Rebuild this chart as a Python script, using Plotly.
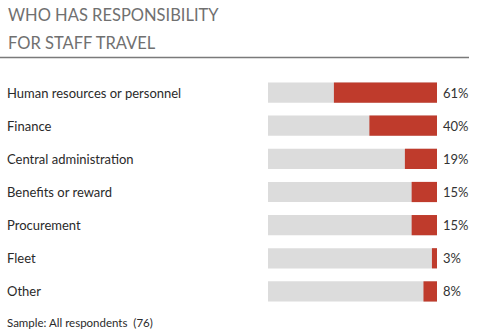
import plotly.graph_objects as go

categories = ["Human resources or personnel", "Finance", "Central administration",
              "Benefits or reward", "Procurement", "Fleet", "Other"]
values = [61, 40, 19, 15, 15, 3, 8]
labels = ["61%", "40%", "19%", "15%", "15%", "3%", "8%"]

W, H = 480, 331
L, R = 268, 437
T, B = 76, 307.7

def px_x(x):
    return (x - L) / (R - L)

def px_y(y):
    return (B - y) / (B - T)

red = "#bf3b2c"
grey = "#dcdcdc"

fig = go.Figure()
fig.add_trace(go.Bar(y=categories, x=[100] * len(categories), orientation="h",
                     marker=dict(color=grey, line=dict(width=0)), hoverinfo="skip", width=0.61))
fig.add_trace(go.Bar(y=categories, x=values, base=[100 - v for v in values], orientation="h",
                     marker=dict(color=red, line=dict(width=0)), width=0.61))

ann = []
for c, t in zip(categories, labels):
    ann.append(dict(x=px_x(5), xref="paper", y=c, yref="y", text=c, showarrow=False,
                    xanchor="left", yanchor="middle",
                    font=dict(family="Lato", size=13, color="#2a2a2a")))
    ann.append(dict(x=100, xref="x", y=c, yref="y", text=t, showarrow=False,
                    xanchor="left", yanchor="middle", xshift=4,
                    font=dict(family="Lato", size=13, color="#333333")))
ann.append(dict(x=px_x(6), xref="paper", y=px_y(15), yref="paper", text="WHO HAS RESPONSIBILITY",
                showarrow=False, xanchor="left", yanchor="middle",
                font=dict(family="Lato", size=16.5, color="#707070")))
ann.append(dict(x=px_x(6), xref="paper", y=px_y(43.5), yref="paper", text="FOR STAFF TRAVEL",
                showarrow=False, xanchor="left", yanchor="middle",
                font=dict(family="Lato", size=16.5, color="#707070")))
ann.append(dict(x=px_x(5), xref="paper", y=px_y(322), yref="paper", text="Sample: All respondents  (76)",
                showarrow=False, xanchor="left", yanchor="middle",
                font=dict(family="Lato", size=11.5, color="#2a2a2a")))

fig.update_layout(
    width=W, height=H, barmode="overlay", showlegend=False,
    margin=dict(l=L, r=W - R, t=T, b=H - B, pad=0),
    paper_bgcolor="white", plot_bgcolor="white",
    xaxis=dict(range=[0, 100], visible=False, fixedrange=True),
    yaxis=dict(visible=False, autorange="reversed", categoryorder="array", categoryarray=categories),
    annotations=ann,
    shapes=[dict(type="line", xref="paper", yref="paper", x0=px_x(0), x1=px_x(469),
                 y0=px_y(57.5), y1=px_y(57.5), line=dict(color="#7a7a7a", width=1.5))],
)
fig.write_html("out.html")
